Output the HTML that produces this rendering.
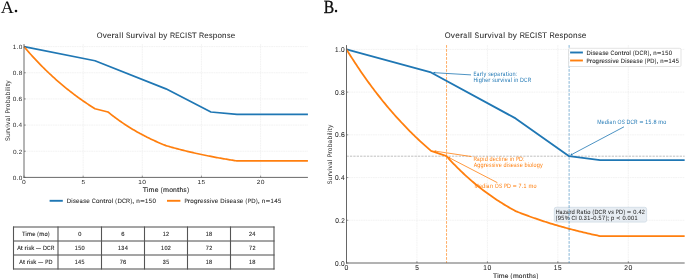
<!DOCTYPE html>
<html><head><meta charset="utf-8"><style>
html,body{margin:0;padding:0;background:#fff;}
svg{display:block;will-change:transform;}
text{font-family:"Liberation Sans",sans-serif;font-kerning:none;white-space:pre;text-rendering:geometricPrecision;}
</style></head><body>
<svg width="685" height="279" viewBox="0 0 685 279">
<rect width="685" height="279" fill="#fff"/>
<g>
<rect width="685" height="279" fill="#fff"/>
<line x1="83.15" y1="44.1" x2="83.15" y2="177.4" stroke="#eeeeee" stroke-width="0.7" stroke-dasharray="1.8 0.6"/>
<line x1="142.30" y1="44.1" x2="142.30" y2="177.4" stroke="#eeeeee" stroke-width="0.7" stroke-dasharray="1.8 0.6"/>
<line x1="201.45" y1="44.1" x2="201.45" y2="177.4" stroke="#eeeeee" stroke-width="0.7" stroke-dasharray="1.8 0.6"/>
<line x1="260.60" y1="44.1" x2="260.60" y2="177.4" stroke="#eeeeee" stroke-width="0.7" stroke-dasharray="1.8 0.6"/>
<line x1="24.0" y1="151.24" x2="307.92" y2="151.24" stroke="#eeeeee" stroke-width="0.7" stroke-dasharray="1.8 0.6"/>
<line x1="24.0" y1="125.08" x2="307.92" y2="125.08" stroke="#eeeeee" stroke-width="0.7" stroke-dasharray="1.8 0.6"/>
<line x1="24.0" y1="98.92" x2="307.92" y2="98.92" stroke="#eeeeee" stroke-width="0.7" stroke-dasharray="1.8 0.6"/>
<line x1="24.0" y1="72.76" x2="307.92" y2="72.76" stroke="#eeeeee" stroke-width="0.7" stroke-dasharray="1.8 0.6"/>
<line x1="24.0" y1="46.60" x2="307.92" y2="46.60" stroke="#eeeeee" stroke-width="0.7" stroke-dasharray="1.8 0.6"/>
<polyline points="24.00,46.60 94.98,60.73 165.96,88.85 210.91,112.00 236.94,114.35 307.92,114.35" fill="none" stroke="#1f77b4" stroke-width="1.7" stroke-linejoin="round" stroke-linecap="butt"/>
<polyline points="24.00,46.60 25.18,48.00 26.37,49.38 27.55,50.75 28.73,52.10 29.91,53.44 31.10,54.76 32.28,56.07 33.46,57.37 34.65,58.65 35.83,59.92 37.01,61.17 38.20,62.42 39.38,63.64 40.56,64.86 41.75,66.06 42.93,67.25 44.11,68.43 45.29,69.59 46.48,70.74 47.66,71.88 48.84,73.01 50.03,74.12 51.21,75.23 52.39,76.32 53.58,77.40 54.76,78.47 55.94,79.52 57.12,80.57 58.31,81.60 59.49,82.63 60.67,83.64 61.86,84.64 63.04,85.63 64.22,86.61 65.41,87.58 66.59,88.54 67.77,89.49 68.95,90.43 70.14,91.36 71.32,92.28 72.50,93.19 73.69,94.09 74.87,94.98 76.05,95.86 77.23,96.73 78.42,97.59 79.60,98.44 80.78,99.28 81.97,100.12 83.15,100.94 84.33,101.76 85.52,102.57 86.70,103.37 87.88,104.16 89.06,104.94 90.25,105.72 91.43,106.48 92.61,107.24 93.80,107.99 94.98,108.73 107.99,112.00 109.18,112.96 110.36,113.90 111.54,114.83 112.72,115.74 113.91,116.64 115.09,117.53 116.27,118.41 117.46,119.27 118.64,120.12 119.82,120.95 121.01,121.78 122.19,122.59 123.37,123.39 124.56,124.18 125.74,124.96 126.92,125.73 128.10,126.48 129.29,127.23 130.47,127.96 131.65,128.68 132.84,129.40 134.02,130.10 135.20,130.79 136.38,131.47 137.57,132.14 138.75,132.80 139.93,133.46 141.12,134.10 142.30,134.73 143.48,135.35 144.67,135.97 145.85,136.57 147.03,137.17 148.22,137.76 149.40,138.34 150.58,138.91 151.76,139.47 152.95,140.03 154.13,140.57 155.31,141.11 156.50,141.64 157.68,142.16 158.86,142.68 160.04,143.19 161.23,143.69 162.41,144.18 163.59,144.67 164.78,145.14 165.96,145.62 167.14,145.96 168.33,146.30 169.51,146.64 170.69,146.98 171.88,147.31 173.06,147.64 174.24,147.96 175.42,148.28 176.61,148.60 177.79,148.91 178.97,149.22 180.16,149.53 181.34,149.83 182.52,150.13 183.71,150.43 184.89,150.72 186.07,151.01 187.25,151.30 188.44,151.58 189.62,151.87 190.80,152.14 191.99,152.42 193.17,152.69 194.35,152.96 195.53,153.23 196.72,153.49 197.90,153.75 199.08,154.01 200.27,154.26 201.45,154.51 202.63,154.76 203.82,155.01 205.00,155.25 206.18,155.49 207.37,155.73 208.55,155.97 209.73,156.20 210.91,156.43 212.10,156.66 213.28,156.89 214.46,157.11 215.65,157.33 216.83,157.55 218.01,157.76 219.19,157.98 220.38,158.19 221.56,158.40 222.74,158.61 223.93,158.81 225.11,159.01 226.29,159.21 227.48,159.41 228.66,159.61 229.84,159.80 231.03,159.99 232.21,160.18 233.39,160.37 234.57,160.55 235.76,160.74 236.94,160.92 307.92,160.92" fill="none" stroke="#ff7f0e" stroke-width="1.7" stroke-linejoin="round" stroke-linecap="butt"/>
<line x1="24.0" y1="44.1" x2="24.0" y2="177.9" stroke="#6a6a6a" stroke-width="1"/>
<line x1="23.5" y1="177.4" x2="307.92" y2="177.4" stroke="#6a6a6a" stroke-width="1"/>
<line x1="24.00" y1="177.4" x2="24.00" y2="175.6" stroke="#555" stroke-width="0.6"/>
<line x1="83.15" y1="177.4" x2="83.15" y2="175.6" stroke="#555" stroke-width="0.6"/>
<line x1="142.30" y1="177.4" x2="142.30" y2="175.6" stroke="#555" stroke-width="0.6"/>
<line x1="201.45" y1="177.4" x2="201.45" y2="175.6" stroke="#555" stroke-width="0.6"/>
<line x1="260.60" y1="177.4" x2="260.60" y2="175.6" stroke="#555" stroke-width="0.6"/>
<line x1="24.0" y1="177.40" x2="25.8" y2="177.40" stroke="#555" stroke-width="0.6"/>
<line x1="24.0" y1="151.24" x2="25.8" y2="151.24" stroke="#555" stroke-width="0.6"/>
<line x1="24.0" y1="125.08" x2="25.8" y2="125.08" stroke="#555" stroke-width="0.6"/>
<line x1="24.0" y1="98.92" x2="25.8" y2="98.92" stroke="#555" stroke-width="0.6"/>
<line x1="24.0" y1="72.76" x2="25.8" y2="72.76" stroke="#555" stroke-width="0.6"/>
<line x1="24.0" y1="46.60" x2="25.8" y2="46.60" stroke="#555" stroke-width="0.6"/>
<text transform="translate(12.78,179.81) scale(1.055,1)" font-size="6.15" fill="#262626">0</text>
<text transform="translate(16.59,179.81) scale(1.083,1)" font-size="6.15" fill="#262626">.</text>
<text transform="translate(18.65,179.81) scale(1.055,1)" font-size="6.15" fill="#262626">0</text>
<text transform="translate(12.99,153.65) scale(1.055,1)" font-size="6.15" fill="#262626">0</text>
<text transform="translate(16.80,153.65) scale(1.083,1)" font-size="6.15" fill="#262626">.</text>
<text transform="translate(18.84,153.65) scale(1.017,1)" font-size="6.15" fill="#262626">2</text>
<text transform="translate(12.72,127.49) scale(1.055,1)" font-size="6.15" fill="#262626">0</text>
<text transform="translate(16.53,127.49) scale(1.083,1)" font-size="6.15" fill="#262626">.</text>
<text transform="translate(18.58,127.49) scale(1.055,1)" font-size="6.15" fill="#262626">4</text>
<text transform="translate(12.76,101.33) scale(1.055,1)" font-size="6.15" fill="#262626">0</text>
<text transform="translate(16.57,101.33) scale(1.083,1)" font-size="6.15" fill="#262626">.</text>
<text transform="translate(18.56,101.33) scale(1.092,1)" font-size="6.15" fill="#262626">6</text>
<text transform="translate(12.79,75.17) scale(1.055,1)" font-size="6.15" fill="#262626">0</text>
<text transform="translate(16.60,75.17) scale(1.083,1)" font-size="6.15" fill="#262626">.</text>
<text transform="translate(18.64,75.17) scale(1.066,1)" font-size="6.15" fill="#262626">8</text>
<text transform="translate(12.83,49.01) scale(1.008,1)" font-size="6.15" fill="#262626">1</text>
<text transform="translate(16.59,49.01) scale(1.083,1)" font-size="6.15" fill="#262626">.</text>
<text transform="translate(18.65,49.01) scale(1.055,1)" font-size="6.15" fill="#262626">0</text>
<text transform="translate(22.12,184.20) scale(1.137,1)" font-size="5.93" fill="#262626">0</text>
<text transform="translate(81.39,184.20) scale(1.073,1)" font-size="5.93" fill="#262626">5</text>
<text transform="translate(138.30,184.20) scale(1.086,1)" font-size="5.93" fill="#262626">1</text>
<text transform="translate(142.32,184.20) scale(1.137,1)" font-size="5.93" fill="#262626">0</text>
<text transform="translate(197.52,184.20) scale(1.086,1)" font-size="5.93" fill="#262626">1</text>
<text transform="translate(201.62,184.20) scale(1.073,1)" font-size="5.93" fill="#262626">5</text>
<text transform="translate(256.65,184.20) scale(1.096,1)" font-size="5.93" fill="#262626">2</text>
<text transform="translate(260.74,184.20) scale(1.137,1)" font-size="5.93" fill="#262626">0</text>
<text transform="translate(96.65,37.70) scale(0.933,1)" font-size="7.93" fill="#262626" stroke="#262626" stroke-width="0.04">O</text>
<text transform="translate(102.67,37.70) scale(1.019,1)" font-size="7.93" fill="#262626" stroke="#262626" stroke-width="0.04">v</text>
<text transform="translate(106.97,37.70) scale(1.019,1)" font-size="7.93" fill="#262626" stroke="#262626" stroke-width="0.04">e</text>
<text transform="translate(111.55,37.70) scale(1.209,1)" font-size="7.93" fill="#262626" stroke="#262626" stroke-width="0.04">r</text>
<text transform="translate(114.75,37.70) scale(0.849,1)" font-size="7.93" fill="#262626" stroke="#262626" stroke-width="0.04">a</text>
<text transform="translate(119.36,37.70) scale(0.965,1)" font-size="7.93" fill="#262626" stroke="#262626" stroke-width="0.04">l</text>
<text transform="translate(121.44,37.70) scale(0.965,1)" font-size="7.93" fill="#262626" stroke="#262626" stroke-width="0.04">l</text>
<text transform="translate(125.90,37.70) scale(0.841,1)" font-size="7.93" fill="#262626" stroke="#262626" stroke-width="0.04">S</text>
<text transform="translate(130.58,37.70) scale(1.018,1)" font-size="7.93" fill="#262626" stroke="#262626" stroke-width="0.04">u</text>
<text transform="translate(135.25,37.70) scale(1.209,1)" font-size="7.93" fill="#262626" stroke="#262626" stroke-width="0.04">r</text>
<text transform="translate(138.48,37.70) scale(1.019,1)" font-size="7.93" fill="#262626" stroke="#262626" stroke-width="0.04">v</text>
<text transform="translate(142.91,37.70) scale(0.965,1)" font-size="7.93" fill="#262626" stroke="#262626" stroke-width="0.04">i</text>
<text transform="translate(144.99,37.70) scale(1.019,1)" font-size="7.93" fill="#262626" stroke="#262626" stroke-width="0.04">v</text>
<text transform="translate(149.39,37.70) scale(0.849,1)" font-size="7.93" fill="#262626" stroke="#262626" stroke-width="0.04">a</text>
<text transform="translate(154.01,37.70) scale(0.965,1)" font-size="7.93" fill="#262626" stroke="#262626" stroke-width="0.04">l</text>
<text transform="translate(158.43,37.70) scale(1.027,1)" font-size="7.93" fill="#262626" stroke="#262626" stroke-width="0.04">b</text>
<text transform="translate(163.23,37.70) scale(1.013,1)" font-size="7.93" fill="#262626" stroke="#262626" stroke-width="0.04">y</text>
<text transform="translate(169.98,37.70) scale(0.903,1)" font-size="7.93" fill="#262626" stroke="#262626" stroke-width="0.04">R</text>
<text transform="translate(175.24,37.70) scale(0.818,1)" font-size="7.93" fill="#262626" stroke="#262626" stroke-width="0.04">E</text>
<text transform="translate(179.84,37.70) scale(0.876,1)" font-size="7.93" fill="#262626" stroke="#262626" stroke-width="0.04">C</text>
<text transform="translate(185.00,37.70) scale(0.998,1)" font-size="7.93" fill="#262626" stroke="#262626" stroke-width="0.04">I</text>
<text transform="translate(187.39,37.70) scale(0.841,1)" font-size="7.93" fill="#262626" stroke="#262626" stroke-width="0.04">S</text>
<text transform="translate(191.75,37.70) scale(1.029,1)" font-size="7.93" fill="#262626" stroke="#262626" stroke-width="0.04">T</text>
<text transform="translate(199.06,37.70) scale(0.903,1)" font-size="7.93" fill="#262626" stroke="#262626" stroke-width="0.04">R</text>
<text transform="translate(204.18,37.70) scale(1.019,1)" font-size="7.93" fill="#262626" stroke="#262626" stroke-width="0.04">e</text>
<text transform="translate(208.92,37.70) scale(0.905,1)" font-size="7.93" fill="#262626" stroke="#262626" stroke-width="0.04">s</text>
<text transform="translate(212.77,37.70) scale(1.027,1)" font-size="7.93" fill="#262626" stroke="#262626" stroke-width="0.04">p</text>
<text transform="translate(217.45,37.70) scale(1.003,1)" font-size="7.93" fill="#262626" stroke="#262626" stroke-width="0.04">o</text>
<text transform="translate(222.09,37.70) scale(1.018,1)" font-size="7.93" fill="#262626" stroke="#262626" stroke-width="0.04">n</text>
<text transform="translate(226.90,37.70) scale(0.905,1)" font-size="7.93" fill="#262626" stroke="#262626" stroke-width="0.04">s</text>
<text transform="translate(230.66,37.70) scale(1.019,1)" font-size="7.93" fill="#262626" stroke="#262626" stroke-width="0.04">e</text>
<text transform="translate(142.65,192.20) scale(1.029,1)" font-size="6.68" fill="#262626" stroke="#262626" stroke-width="0.12">T</text>
<text transform="translate(146.84,192.20) scale(0.965,1)" font-size="6.68" fill="#262626" stroke="#262626" stroke-width="0.12">i</text>
<text transform="translate(148.52,192.20) scale(1.075,1)" font-size="6.68" fill="#262626" stroke="#262626" stroke-width="0.12">m</text>
<text transform="translate(154.63,192.20) scale(1.019,1)" font-size="6.68" fill="#262626" stroke="#262626" stroke-width="0.12">e</text>
<text transform="translate(160.67,192.20) scale(0.798,1)" font-size="6.68" fill="#262626" stroke="#262626" stroke-width="0.12">(</text>
<text transform="translate(163.01,192.20) scale(1.075,1)" font-size="6.68" fill="#262626" stroke="#262626" stroke-width="0.12">m</text>
<text transform="translate(169.13,192.20) scale(1.003,1)" font-size="6.68" fill="#262626" stroke="#262626" stroke-width="0.12">o</text>
<text transform="translate(173.04,192.20) scale(1.018,1)" font-size="6.68" fill="#262626" stroke="#262626" stroke-width="0.12">n</text>
<text transform="translate(176.96,192.20) scale(1.261,1)" font-size="6.68" fill="#262626" stroke="#262626" stroke-width="0.12">t</text>
<text transform="translate(179.49,192.20) scale(1.025,1)" font-size="6.68" fill="#262626" stroke="#262626" stroke-width="0.12">h</text>
<text transform="translate(183.57,192.20) scale(0.905,1)" font-size="6.68" fill="#262626" stroke="#262626" stroke-width="0.12">s</text>
<text transform="translate(187.15,192.20) scale(0.798,1)" font-size="6.68" fill="#262626" stroke="#262626" stroke-width="0.12">)</text>
<text transform="translate(10.40,140.95) rotate(-90) scale(0.841,1)" font-size="6.67" fill="#262626">S</text>
<text transform="translate(10.40,137.03) rotate(-90) scale(1.018,1)" font-size="6.67" fill="#262626">u</text>
<text transform="translate(10.40,133.09) rotate(-90) scale(1.209,1)" font-size="6.67" fill="#262626">r</text>
<text transform="translate(10.40,130.38) rotate(-90) scale(1.019,1)" font-size="6.67" fill="#262626">v</text>
<text transform="translate(10.40,126.65) rotate(-90) scale(0.965,1)" font-size="6.67" fill="#262626">i</text>
<text transform="translate(10.40,124.90) rotate(-90) scale(1.019,1)" font-size="6.67" fill="#262626">v</text>
<text transform="translate(10.40,121.21) rotate(-90) scale(0.849,1)" font-size="6.67" fill="#262626">a</text>
<text transform="translate(10.40,117.33) rotate(-90) scale(0.965,1)" font-size="6.67" fill="#262626">l</text>
<text transform="translate(10.40,113.57) rotate(-90) scale(0.835,1)" font-size="6.67" fill="#262626">P</text>
<text transform="translate(10.40,109.90) rotate(-90) scale(1.209,1)" font-size="6.67" fill="#262626">r</text>
<text transform="translate(10.40,107.29) rotate(-90) scale(1.003,1)" font-size="6.67" fill="#262626">o</text>
<text transform="translate(10.40,103.37) rotate(-90) scale(1.027,1)" font-size="6.67" fill="#262626">b</text>
<text transform="translate(10.40,99.37) rotate(-90) scale(0.849,1)" font-size="6.67" fill="#262626">a</text>
<text transform="translate(10.40,95.52) rotate(-90) scale(1.027,1)" font-size="6.67" fill="#262626">b</text>
<text transform="translate(10.40,91.49) rotate(-90) scale(0.965,1)" font-size="6.67" fill="#262626">i</text>
<text transform="translate(10.40,89.74) rotate(-90) scale(0.965,1)" font-size="6.67" fill="#262626">l</text>
<text transform="translate(10.40,87.99) rotate(-90) scale(0.965,1)" font-size="6.67" fill="#262626">i</text>
<text transform="translate(10.40,86.36) rotate(-90) scale(1.261,1)" font-size="6.67" fill="#262626">t</text>
<text transform="translate(10.40,83.77) rotate(-90) scale(1.013,1)" font-size="6.67" fill="#262626">y</text>
<line x1="49.6" y1="200.8" x2="62.8" y2="200.8" stroke="#1f77b4" stroke-width="1.9"/>
<text transform="translate(66.70,202.90) scale(0.976,1)" font-size="6.25" fill="#262626" stroke="#262626" stroke-width="0.08">D</text>
<text transform="translate(71.32,202.90) scale(0.965,1)" font-size="6.25" fill="#262626" stroke="#262626" stroke-width="0.08">i</text>
<text transform="translate(72.97,202.90) scale(0.905,1)" font-size="6.25" fill="#262626" stroke="#262626" stroke-width="0.08">s</text>
<text transform="translate(75.93,202.90) scale(1.019,1)" font-size="6.25" fill="#262626" stroke="#262626" stroke-width="0.08">e</text>
<text transform="translate(79.64,202.90) scale(0.849,1)" font-size="6.25" fill="#262626" stroke="#262626" stroke-width="0.08">a</text>
<text transform="translate(83.28,202.90) scale(0.905,1)" font-size="6.25" fill="#262626" stroke="#262626" stroke-width="0.08">s</text>
<text transform="translate(86.25,202.90) scale(1.019,1)" font-size="6.25" fill="#262626" stroke="#262626" stroke-width="0.08">e</text>
<text transform="translate(91.75,202.90) scale(0.876,1)" font-size="6.25" fill="#262626" stroke="#262626" stroke-width="0.08">C</text>
<text transform="translate(95.88,202.90) scale(1.003,1)" font-size="6.25" fill="#262626" stroke="#262626" stroke-width="0.08">o</text>
<text transform="translate(99.54,202.90) scale(1.018,1)" font-size="6.25" fill="#262626" stroke="#262626" stroke-width="0.08">n</text>
<text transform="translate(103.21,202.90) scale(1.261,1)" font-size="6.25" fill="#262626" stroke="#262626" stroke-width="0.08">t</text>
<text transform="translate(105.52,202.90) scale(1.209,1)" font-size="6.25" fill="#262626" stroke="#262626" stroke-width="0.08">r</text>
<text transform="translate(107.97,202.90) scale(1.003,1)" font-size="6.25" fill="#262626" stroke="#262626" stroke-width="0.08">o</text>
<text transform="translate(111.67,202.90) scale(0.965,1)" font-size="6.25" fill="#262626" stroke="#262626" stroke-width="0.08">l</text>
<text transform="translate(115.23,202.90) scale(0.798,1)" font-size="6.25" fill="#262626" stroke="#262626" stroke-width="0.08">(</text>
<text transform="translate(117.41,202.90) scale(0.976,1)" font-size="6.25" fill="#262626" stroke="#262626" stroke-width="0.08">D</text>
<text transform="translate(121.93,202.90) scale(0.876,1)" font-size="6.25" fill="#262626" stroke="#262626" stroke-width="0.08">C</text>
<text transform="translate(126.11,202.90) scale(0.903,1)" font-size="6.25" fill="#262626" stroke="#262626" stroke-width="0.08">R</text>
<text transform="translate(130.54,202.90) scale(0.798,1)" font-size="6.25" fill="#262626" stroke="#262626" stroke-width="0.08">)</text>
<text transform="translate(132.08,202.90) scale(1.376,1)" font-size="6.25" fill="#262626" stroke="#262626" stroke-width="0.08">,</text>
<text transform="translate(136.26,202.90) scale(1.018,1)" font-size="6.25" fill="#262626" stroke="#262626" stroke-width="0.08">n</text>
<text transform="translate(140.14,202.90) scale(1.216,1)" font-size="6.25" fill="#262626" stroke="#262626" stroke-width="0.08">=</text>
<text transform="translate(145.03,202.90) scale(0.950,1)" font-size="6.25" fill="#262626" stroke="#262626" stroke-width="0.08">1</text>
<text transform="translate(148.80,202.90) scale(0.939,1)" font-size="6.25" fill="#262626" stroke="#262626" stroke-width="0.08">5</text>
<text transform="translate(152.48,202.90) scale(0.995,1)" font-size="6.25" fill="#262626" stroke="#262626" stroke-width="0.08">0</text>
<line x1="167" y1="200.8" x2="180.4" y2="200.8" stroke="#ff7f0e" stroke-width="1.9"/>
<text transform="translate(184.42,202.90) scale(0.835,1)" font-size="6.22" fill="#262626" stroke="#262626" stroke-width="0.08">P</text>
<text transform="translate(187.85,202.90) scale(1.209,1)" font-size="6.22" fill="#262626" stroke="#262626" stroke-width="0.08">r</text>
<text transform="translate(190.29,202.90) scale(1.003,1)" font-size="6.22" fill="#262626" stroke="#262626" stroke-width="0.08">o</text>
<text transform="translate(193.88,202.90) scale(1.026,1)" font-size="6.22" fill="#262626" stroke="#262626" stroke-width="0.08">g</text>
<text transform="translate(197.59,202.90) scale(1.209,1)" font-size="6.22" fill="#262626" stroke="#262626" stroke-width="0.08">r</text>
<text transform="translate(200.02,202.90) scale(1.019,1)" font-size="6.22" fill="#262626" stroke="#262626" stroke-width="0.08">e</text>
<text transform="translate(203.75,202.90) scale(0.905,1)" font-size="6.22" fill="#262626" stroke="#262626" stroke-width="0.08">s</text>
<text transform="translate(206.81,202.90) scale(0.905,1)" font-size="6.22" fill="#262626" stroke="#262626" stroke-width="0.08">s</text>
<text transform="translate(209.86,202.90) scale(0.965,1)" font-size="6.22" fill="#262626" stroke="#262626" stroke-width="0.08">i</text>
<text transform="translate(211.49,202.90) scale(1.019,1)" font-size="6.22" fill="#262626" stroke="#262626" stroke-width="0.08">v</text>
<text transform="translate(214.87,202.90) scale(1.019,1)" font-size="6.22" fill="#262626" stroke="#262626" stroke-width="0.08">e</text>
<text transform="translate(220.37,202.90) scale(0.976,1)" font-size="6.22" fill="#262626" stroke="#262626" stroke-width="0.08">D</text>
<text transform="translate(224.97,202.90) scale(0.965,1)" font-size="6.22" fill="#262626" stroke="#262626" stroke-width="0.08">i</text>
<text transform="translate(226.61,202.90) scale(0.905,1)" font-size="6.22" fill="#262626" stroke="#262626" stroke-width="0.08">s</text>
<text transform="translate(229.57,202.90) scale(1.019,1)" font-size="6.22" fill="#262626" stroke="#262626" stroke-width="0.08">e</text>
<text transform="translate(233.26,202.90) scale(0.849,1)" font-size="6.22" fill="#262626" stroke="#262626" stroke-width="0.08">a</text>
<text transform="translate(236.89,202.90) scale(0.905,1)" font-size="6.22" fill="#262626" stroke="#262626" stroke-width="0.08">s</text>
<text transform="translate(239.84,202.90) scale(1.019,1)" font-size="6.22" fill="#262626" stroke="#262626" stroke-width="0.08">e</text>
<text transform="translate(245.47,202.90) scale(0.798,1)" font-size="6.22" fill="#262626" stroke="#262626" stroke-width="0.08">(</text>
<text transform="translate(247.71,202.90) scale(0.835,1)" font-size="6.22" fill="#262626" stroke="#262626" stroke-width="0.08">P</text>
<text transform="translate(251.18,202.90) scale(0.976,1)" font-size="6.22" fill="#262626" stroke="#262626" stroke-width="0.08">D</text>
<text transform="translate(256.07,202.90) scale(0.798,1)" font-size="6.22" fill="#262626" stroke="#262626" stroke-width="0.08">)</text>
<text transform="translate(257.60,202.90) scale(1.376,1)" font-size="6.22" fill="#262626" stroke="#262626" stroke-width="0.08">,</text>
<text transform="translate(261.77,202.90) scale(1.018,1)" font-size="6.22" fill="#262626" stroke="#262626" stroke-width="0.08">n</text>
<text transform="translate(265.63,202.90) scale(1.216,1)" font-size="6.22" fill="#262626" stroke="#262626" stroke-width="0.08">=</text>
<text transform="translate(270.50,202.90) scale(0.950,1)" font-size="6.22" fill="#262626" stroke="#262626" stroke-width="0.08">1</text>
<text transform="translate(274.18,202.90) scale(0.995,1)" font-size="6.22" fill="#262626" stroke="#262626" stroke-width="0.08">4</text>
<text transform="translate(277.99,202.90) scale(0.939,1)" font-size="6.22" fill="#262626" stroke="#262626" stroke-width="0.08">5</text>
<line x1="13.0" y1="227.0" x2="274.5" y2="227.0" stroke="#4a4a4a" stroke-width="1"/>
<line x1="13.0" y1="241.0" x2="274.5" y2="241.0" stroke="#4a4a4a" stroke-width="1"/>
<line x1="13.0" y1="255.0" x2="274.5" y2="255.0" stroke="#4a4a4a" stroke-width="1"/>
<line x1="13.0" y1="269.0" x2="274.5" y2="269.0" stroke="#4a4a4a" stroke-width="1"/>
<line x1="13.5" y1="226.5" x2="13.5" y2="269.5" stroke="#555" stroke-width="1.1"/>
<line x1="58.0" y1="226.5" x2="58.0" y2="269.5" stroke="#555" stroke-width="1.1"/>
<line x1="101.5" y1="226.5" x2="101.5" y2="269.5" stroke="#555" stroke-width="1.1"/>
<line x1="144.5" y1="226.5" x2="144.5" y2="269.5" stroke="#555" stroke-width="1.1"/>
<line x1="187.5" y1="226.5" x2="187.5" y2="269.5" stroke="#555" stroke-width="1.1"/>
<line x1="230.5" y1="226.5" x2="230.5" y2="269.5" stroke="#555" stroke-width="1.1"/>
<line x1="274.0" y1="226.5" x2="274.0" y2="269.5" stroke="#555" stroke-width="1.1"/>
<text transform="translate(22.03,235.80) scale(0.949,1)" font-size="6.15" fill="#262626" stroke="#262626" stroke-width="0.12">T</text>
<text transform="translate(25.59,235.80) scale(0.890,1)" font-size="6.15" fill="#262626" stroke="#262626" stroke-width="0.12">i</text>
<text transform="translate(27.01,235.80) scale(0.992,1)" font-size="6.15" fill="#262626" stroke="#262626" stroke-width="0.12">m</text>
<text transform="translate(32.19,235.80) scale(0.940,1)" font-size="6.15" fill="#262626" stroke="#262626" stroke-width="0.12">e</text>
<text transform="translate(37.32,235.80) scale(0.736,1)" font-size="6.15" fill="#262626" stroke="#262626" stroke-width="0.12">(</text>
<text transform="translate(39.31,235.80) scale(0.992,1)" font-size="6.15" fill="#262626" stroke="#262626" stroke-width="0.12">m</text>
<text transform="translate(44.49,235.80) scale(0.925,1)" font-size="6.15" fill="#262626" stroke="#262626" stroke-width="0.12">o</text>
<text transform="translate(48.11,235.80) scale(0.736,1)" font-size="6.15" fill="#262626" stroke="#262626" stroke-width="0.12">)</text>
<text transform="translate(78.18,235.80) scale(0.918,1)" font-size="6.15" fill="#262626" stroke="#262626" stroke-width="0.12">0</text>
<text transform="translate(121.36,235.80) scale(0.950,1)" font-size="6.15" fill="#262626" stroke="#262626" stroke-width="0.12">6</text>
<text transform="translate(162.75,235.80) scale(0.876,1)" font-size="6.15" fill="#262626" stroke="#262626" stroke-width="0.12">1</text>
<text transform="translate(166.09,235.80) scale(0.885,1)" font-size="6.15" fill="#262626" stroke="#262626" stroke-width="0.12">2</text>
<text transform="translate(205.66,235.80) scale(0.876,1)" font-size="6.15" fill="#262626" stroke="#262626" stroke-width="0.12">1</text>
<text transform="translate(209.00,235.80) scale(0.928,1)" font-size="6.15" fill="#262626" stroke="#262626" stroke-width="0.12">8</text>
<text transform="translate(248.92,235.80) scale(0.885,1)" font-size="6.15" fill="#262626" stroke="#262626" stroke-width="0.12">2</text>
<text transform="translate(252.34,235.80) scale(0.918,1)" font-size="6.15" fill="#262626" stroke="#262626" stroke-width="0.12">4</text>
<text transform="translate(17.16,249.60) scale(0.877,1)" font-size="6.15" fill="#262626" stroke="#262626" stroke-width="0.12">A</text>
<text transform="translate(20.82,249.60) scale(1.163,1)" font-size="6.15" fill="#262626" stroke="#262626" stroke-width="0.12">t</text>
<text transform="translate(24.62,249.60) scale(1.115,1)" font-size="6.15" fill="#262626" stroke="#262626" stroke-width="0.12">r</text>
<text transform="translate(26.93,249.60) scale(0.890,1)" font-size="6.15" fill="#262626" stroke="#262626" stroke-width="0.12">i</text>
<text transform="translate(28.42,249.60) scale(0.834,1)" font-size="6.15" fill="#262626" stroke="#262626" stroke-width="0.12">s</text>
<text transform="translate(31.14,249.60) scale(0.973,1)" font-size="6.15" fill="#262626" stroke="#262626" stroke-width="0.12">k</text>
<text transform="translate(36.12,249.60) scale(0.786,1)" font-size="6.15" fill="#262626" stroke="#262626" stroke-width="0.12">—</text>
<text transform="translate(42.98,249.60) scale(0.901,1)" font-size="6.15" fill="#262626" stroke="#262626" stroke-width="0.12">D</text>
<text transform="translate(47.08,249.60) scale(0.808,1)" font-size="6.15" fill="#262626" stroke="#262626" stroke-width="0.12">C</text>
<text transform="translate(50.87,249.60) scale(0.833,1)" font-size="6.15" fill="#262626" stroke="#262626" stroke-width="0.12">R</text>
<text transform="translate(74.71,249.60) scale(0.876,1)" font-size="6.15" fill="#262626" stroke="#262626" stroke-width="0.12">1</text>
<text transform="translate(78.13,249.60) scale(0.866,1)" font-size="6.15" fill="#262626" stroke="#262626" stroke-width="0.12">5</text>
<text transform="translate(81.47,249.60) scale(0.918,1)" font-size="6.15" fill="#262626" stroke="#262626" stroke-width="0.12">0</text>
<text transform="translate(117.93,249.60) scale(0.876,1)" font-size="6.15" fill="#262626" stroke="#262626" stroke-width="0.12">1</text>
<text transform="translate(121.36,249.60) scale(0.881,1)" font-size="6.15" fill="#262626" stroke="#262626" stroke-width="0.12">3</text>
<text transform="translate(124.69,249.60) scale(0.918,1)" font-size="6.15" fill="#262626" stroke="#262626" stroke-width="0.12">4</text>
<text transform="translate(161.05,249.60) scale(0.876,1)" font-size="6.15" fill="#262626" stroke="#262626" stroke-width="0.12">1</text>
<text transform="translate(164.40,249.60) scale(0.918,1)" font-size="6.15" fill="#262626" stroke="#262626" stroke-width="0.12">0</text>
<text transform="translate(167.79,249.60) scale(0.885,1)" font-size="6.15" fill="#262626" stroke="#262626" stroke-width="0.12">2</text>
<text transform="translate(205.80,249.60) scale(0.898,1)" font-size="6.15" fill="#262626" stroke="#262626" stroke-width="0.12">7</text>
<text transform="translate(209.17,249.60) scale(0.885,1)" font-size="6.15" fill="#262626" stroke="#262626" stroke-width="0.12">2</text>
<text transform="translate(249.05,249.60) scale(0.898,1)" font-size="6.15" fill="#262626" stroke="#262626" stroke-width="0.12">7</text>
<text transform="translate(252.42,249.60) scale(0.885,1)" font-size="6.15" fill="#262626" stroke="#262626" stroke-width="0.12">2</text>
<text transform="translate(19.36,263.50) scale(0.877,1)" font-size="6.15" fill="#262626" stroke="#262626" stroke-width="0.12">A</text>
<text transform="translate(23.02,263.50) scale(1.163,1)" font-size="6.15" fill="#262626" stroke="#262626" stroke-width="0.12">t</text>
<text transform="translate(26.81,263.50) scale(1.115,1)" font-size="6.15" fill="#262626" stroke="#262626" stroke-width="0.12">r</text>
<text transform="translate(29.12,263.50) scale(0.890,1)" font-size="6.15" fill="#262626" stroke="#262626" stroke-width="0.12">i</text>
<text transform="translate(30.62,263.50) scale(0.834,1)" font-size="6.15" fill="#262626" stroke="#262626" stroke-width="0.12">s</text>
<text transform="translate(33.34,263.50) scale(0.973,1)" font-size="6.15" fill="#262626" stroke="#262626" stroke-width="0.12">k</text>
<text transform="translate(38.32,263.50) scale(0.786,1)" font-size="6.15" fill="#262626" stroke="#262626" stroke-width="0.12">—</text>
<text transform="translate(45.24,263.50) scale(0.770,1)" font-size="6.15" fill="#262626" stroke="#262626" stroke-width="0.12">P</text>
<text transform="translate(48.40,263.50) scale(0.901,1)" font-size="6.15" fill="#262626" stroke="#262626" stroke-width="0.12">D</text>
<text transform="translate(74.76,263.50) scale(0.876,1)" font-size="6.15" fill="#262626" stroke="#262626" stroke-width="0.12">1</text>
<text transform="translate(78.12,263.50) scale(0.918,1)" font-size="6.15" fill="#262626" stroke="#262626" stroke-width="0.12">4</text>
<text transform="translate(81.59,263.50) scale(0.866,1)" font-size="6.15" fill="#262626" stroke="#262626" stroke-width="0.12">5</text>
<text transform="translate(119.70,263.50) scale(0.898,1)" font-size="6.15" fill="#262626" stroke="#262626" stroke-width="0.12">7</text>
<text transform="translate(123.03,263.50) scale(0.950,1)" font-size="6.15" fill="#262626" stroke="#262626" stroke-width="0.12">6</text>
<text transform="translate(162.83,263.50) scale(0.881,1)" font-size="6.15" fill="#262626" stroke="#262626" stroke-width="0.12">3</text>
<text transform="translate(166.23,263.50) scale(0.866,1)" font-size="6.15" fill="#262626" stroke="#262626" stroke-width="0.12">5</text>
<text transform="translate(205.66,263.50) scale(0.876,1)" font-size="6.15" fill="#262626" stroke="#262626" stroke-width="0.12">1</text>
<text transform="translate(209.00,263.50) scale(0.928,1)" font-size="6.15" fill="#262626" stroke="#262626" stroke-width="0.12">8</text>
<text transform="translate(248.91,263.50) scale(0.876,1)" font-size="6.15" fill="#262626" stroke="#262626" stroke-width="0.12">1</text>
<text transform="translate(252.25,263.50) scale(0.928,1)" font-size="6.15" fill="#262626" stroke="#262626" stroke-width="0.12">8</text>
<line x1="416.95" y1="45.1" x2="416.95" y2="263.0" stroke="#eeeeee" stroke-width="0.7" stroke-dasharray="1.8 0.6"/>
<line x1="487.40" y1="45.1" x2="487.40" y2="263.0" stroke="#eeeeee" stroke-width="0.7" stroke-dasharray="1.8 0.6"/>
<line x1="557.85" y1="45.1" x2="557.85" y2="263.0" stroke="#eeeeee" stroke-width="0.7" stroke-dasharray="1.8 0.6"/>
<line x1="628.30" y1="45.1" x2="628.30" y2="263.0" stroke="#eeeeee" stroke-width="0.7" stroke-dasharray="1.8 0.6"/>
<line x1="346.5" y1="220.28" x2="684.66" y2="220.28" stroke="#eeeeee" stroke-width="0.7" stroke-dasharray="1.8 0.6"/>
<line x1="346.5" y1="177.56" x2="684.66" y2="177.56" stroke="#eeeeee" stroke-width="0.7" stroke-dasharray="1.8 0.6"/>
<line x1="346.5" y1="134.84" x2="684.66" y2="134.84" stroke="#eeeeee" stroke-width="0.7" stroke-dasharray="1.8 0.6"/>
<line x1="346.5" y1="92.12" x2="684.66" y2="92.12" stroke="#eeeeee" stroke-width="0.7" stroke-dasharray="1.8 0.6"/>
<line x1="346.5" y1="49.40" x2="684.66" y2="49.40" stroke="#eeeeee" stroke-width="0.7" stroke-dasharray="1.8 0.6"/>
<line x1="346.5" y1="156.20" x2="684.66" y2="156.20" stroke="#999" stroke-opacity="0.7" stroke-width="0.9" stroke-dasharray="2.3 1.1"/>
<line x1="446.54" y1="45.1" x2="446.54" y2="263.0" stroke="#ff7f0e" stroke-opacity="0.65" stroke-width="1" stroke-dasharray="2.7 1.3"/>
<polyline points="346.50,49.40 431.04,72.47 515.58,118.39 569.12,156.20 600.12,160.04 684.66,160.04" fill="none" stroke="#1f77b4" stroke-width="1.8" stroke-linejoin="round" stroke-linecap="butt"/>
<polyline points="346.50,49.40 347.91,51.68 349.32,53.94 350.73,56.17 352.14,58.38 353.55,60.57 354.95,62.73 356.36,64.87 357.77,66.99 359.18,69.08 360.59,71.15 362.00,73.20 363.41,75.23 364.82,77.23 366.23,79.22 367.63,81.18 369.04,83.12 370.45,85.04 371.86,86.94 373.27,88.83 374.68,90.69 376.09,92.53 377.50,94.35 378.91,96.15 380.32,97.93 381.73,99.69 383.13,101.44 384.54,103.16 385.95,104.87 387.36,106.56 388.77,108.23 390.18,109.89 391.59,111.52 393.00,113.14 394.41,114.74 395.81,116.32 397.22,117.89 398.63,119.44 400.04,120.97 401.45,122.49 402.86,123.99 404.27,125.48 405.68,126.95 407.09,128.40 408.50,129.84 409.90,131.26 411.31,132.67 412.72,134.06 414.13,135.44 415.54,136.80 416.95,138.15 418.36,139.48 419.77,140.80 421.18,142.10 422.59,143.40 424.00,144.67 425.40,145.94 426.81,147.19 428.22,148.43 429.63,149.65 431.04,150.86 446.54,156.20 447.95,157.76 449.36,159.30 450.77,160.82 452.18,162.31 453.58,163.78 454.99,165.23 456.40,166.66 457.81,168.07 459.22,169.46 460.63,170.82 462.04,172.17 463.45,173.50 464.86,174.81 466.26,176.10 467.67,177.37 469.08,178.62 470.49,179.85 471.90,181.07 473.31,182.26 474.72,183.44 476.13,184.61 477.54,185.75 478.95,186.88 480.36,188.00 481.76,189.09 483.17,190.17 484.58,191.24 485.99,192.29 487.40,193.32 488.81,194.34 490.22,195.34 491.63,196.33 493.04,197.31 494.44,198.27 495.85,199.21 497.26,200.14 498.67,201.06 500.08,201.97 501.49,202.86 502.90,203.74 504.31,204.61 505.72,205.46 507.13,206.30 508.53,207.13 509.94,207.95 511.35,208.75 512.76,209.54 514.17,210.33 515.58,211.10 516.99,211.66 518.40,212.22 519.81,212.77 521.22,213.32 522.62,213.86 524.03,214.39 525.44,214.92 526.85,215.45 528.26,215.96 529.67,216.48 531.08,216.98 532.49,217.48 533.90,217.98 535.31,218.47 536.72,218.95 538.12,219.43 539.53,219.91 540.94,220.38 542.35,220.84 543.76,221.30 545.17,221.75 546.58,222.20 547.99,222.65 549.40,223.09 550.81,223.52 552.21,223.95 553.62,224.38 555.03,224.80 556.44,225.21 557.85,225.62 559.26,226.03 560.67,226.43 562.08,226.83 563.49,227.23 564.89,227.61 566.30,228.00 567.71,228.38 569.12,228.76 570.53,229.13 571.94,229.50 573.35,229.86 574.76,230.23 576.17,230.58 577.58,230.93 578.99,231.28 580.39,231.63 581.80,231.97 583.21,232.31 584.62,232.64 586.03,232.97 587.44,233.30 588.85,233.62 590.26,233.94 591.67,234.26 593.08,234.57 594.48,234.88 595.89,235.19 597.30,235.49 598.71,235.79 600.12,236.09 684.66,236.09" fill="none" stroke="#ff7f0e" stroke-width="1.8" stroke-linejoin="round" stroke-linecap="butt"/>
<line x1="346.5" y1="45.1" x2="346.5" y2="263.5" stroke="#666" stroke-width="1"/>
<line x1="346.0" y1="263.0" x2="684.66" y2="263.0" stroke="#666" stroke-width="1"/>
<line x1="346.50" y1="263.0" x2="346.50" y2="261.2" stroke="#555" stroke-width="0.6"/>
<line x1="416.95" y1="263.0" x2="416.95" y2="261.2" stroke="#555" stroke-width="0.6"/>
<line x1="487.40" y1="263.0" x2="487.40" y2="261.2" stroke="#555" stroke-width="0.6"/>
<line x1="557.85" y1="263.0" x2="557.85" y2="261.2" stroke="#555" stroke-width="0.6"/>
<line x1="628.30" y1="263.0" x2="628.30" y2="261.2" stroke="#555" stroke-width="0.6"/>
<line x1="346.5" y1="263.00" x2="348.3" y2="263.00" stroke="#555" stroke-width="0.6"/>
<line x1="346.5" y1="220.28" x2="348.3" y2="220.28" stroke="#555" stroke-width="0.6"/>
<line x1="346.5" y1="177.56" x2="348.3" y2="177.56" stroke="#555" stroke-width="0.6"/>
<line x1="346.5" y1="134.84" x2="348.3" y2="134.84" stroke="#555" stroke-width="0.6"/>
<line x1="346.5" y1="92.12" x2="348.3" y2="92.12" stroke="#555" stroke-width="0.6"/>
<line x1="346.5" y1="49.40" x2="348.3" y2="49.40" stroke="#555" stroke-width="0.6"/>
<text transform="translate(335.03,265.51) scale(0.942,1)" font-size="6.99" fill="#262626" stroke="#262626" stroke-width="0.06">0</text>
<text transform="translate(338.90,265.51) scale(0.967,1)" font-size="6.99" fill="#262626" stroke="#262626" stroke-width="0.06">.</text>
<text transform="translate(340.99,265.51) scale(0.942,1)" font-size="6.99" fill="#262626" stroke="#262626" stroke-width="0.06">0</text>
<text transform="translate(335.24,222.79) scale(0.942,1)" font-size="6.99" fill="#262626" stroke="#262626" stroke-width="0.06">0</text>
<text transform="translate(339.11,222.79) scale(0.967,1)" font-size="6.99" fill="#262626" stroke="#262626" stroke-width="0.06">.</text>
<text transform="translate(341.19,222.79) scale(0.908,1)" font-size="6.99" fill="#262626" stroke="#262626" stroke-width="0.06">2</text>
<text transform="translate(334.97,180.07) scale(0.942,1)" font-size="6.99" fill="#262626" stroke="#262626" stroke-width="0.06">0</text>
<text transform="translate(338.84,180.07) scale(0.967,1)" font-size="6.99" fill="#262626" stroke="#262626" stroke-width="0.06">.</text>
<text transform="translate(340.93,180.07) scale(0.942,1)" font-size="6.99" fill="#262626" stroke="#262626" stroke-width="0.06">4</text>
<text transform="translate(335.01,137.35) scale(0.942,1)" font-size="6.99" fill="#262626" stroke="#262626" stroke-width="0.06">0</text>
<text transform="translate(338.88,137.35) scale(0.967,1)" font-size="6.99" fill="#262626" stroke="#262626" stroke-width="0.06">.</text>
<text transform="translate(340.91,137.35) scale(0.975,1)" font-size="6.99" fill="#262626" stroke="#262626" stroke-width="0.06">6</text>
<text transform="translate(335.04,94.63) scale(0.942,1)" font-size="6.99" fill="#262626" stroke="#262626" stroke-width="0.06">0</text>
<text transform="translate(338.91,94.63) scale(0.967,1)" font-size="6.99" fill="#262626" stroke="#262626" stroke-width="0.06">.</text>
<text transform="translate(340.99,94.63) scale(0.952,1)" font-size="6.99" fill="#262626" stroke="#262626" stroke-width="0.06">8</text>
<text transform="translate(335.08,51.91) scale(0.900,1)" font-size="6.99" fill="#262626" stroke="#262626" stroke-width="0.06">1</text>
<text transform="translate(338.90,51.91) scale(0.967,1)" font-size="6.99" fill="#262626" stroke="#262626" stroke-width="0.06">.</text>
<text transform="translate(340.99,51.91) scale(0.942,1)" font-size="6.99" fill="#262626" stroke="#262626" stroke-width="0.06">0</text>
<text transform="translate(344.59,269.80) scale(0.965,1)" font-size="7.10" fill="#262626" stroke="#262626" stroke-width="0.06">0</text>
<text transform="translate(415.16,269.80) scale(0.911,1)" font-size="7.10" fill="#262626" stroke="#262626" stroke-width="0.06">5</text>
<text transform="translate(483.34,269.80) scale(0.922,1)" font-size="7.10" fill="#262626" stroke="#262626" stroke-width="0.06">1</text>
<text transform="translate(487.42,269.80) scale(0.965,1)" font-size="7.10" fill="#262626" stroke="#262626" stroke-width="0.06">0</text>
<text transform="translate(553.86,269.80) scale(0.922,1)" font-size="7.10" fill="#262626" stroke="#262626" stroke-width="0.06">1</text>
<text transform="translate(558.02,269.80) scale(0.911,1)" font-size="7.10" fill="#262626" stroke="#262626" stroke-width="0.06">5</text>
<text transform="translate(624.29,269.80) scale(0.930,1)" font-size="7.10" fill="#262626" stroke="#262626" stroke-width="0.06">2</text>
<text transform="translate(628.44,269.80) scale(0.965,1)" font-size="7.10" fill="#262626" stroke="#262626" stroke-width="0.06">0</text>
<text transform="translate(444.64,37.90) scale(0.933,1)" font-size="8.12" fill="#262626" stroke="#262626" stroke-width="0.04">O</text>
<text transform="translate(450.80,37.90) scale(1.019,1)" font-size="8.12" fill="#262626" stroke="#262626" stroke-width="0.04">v</text>
<text transform="translate(455.21,37.90) scale(1.019,1)" font-size="8.12" fill="#262626" stroke="#262626" stroke-width="0.04">e</text>
<text transform="translate(459.90,37.90) scale(1.209,1)" font-size="8.12" fill="#262626" stroke="#262626" stroke-width="0.04">r</text>
<text transform="translate(463.17,37.90) scale(0.849,1)" font-size="8.12" fill="#262626" stroke="#262626" stroke-width="0.04">a</text>
<text transform="translate(467.90,37.90) scale(0.965,1)" font-size="8.12" fill="#262626" stroke="#262626" stroke-width="0.04">l</text>
<text transform="translate(470.03,37.90) scale(0.965,1)" font-size="8.12" fill="#262626" stroke="#262626" stroke-width="0.04">l</text>
<text transform="translate(474.60,37.90) scale(0.841,1)" font-size="8.12" fill="#262626" stroke="#262626" stroke-width="0.04">S</text>
<text transform="translate(479.38,37.90) scale(1.018,1)" font-size="8.12" fill="#262626" stroke="#262626" stroke-width="0.04">u</text>
<text transform="translate(484.17,37.90) scale(1.209,1)" font-size="8.12" fill="#262626" stroke="#262626" stroke-width="0.04">r</text>
<text transform="translate(487.48,37.90) scale(1.019,1)" font-size="8.12" fill="#262626" stroke="#262626" stroke-width="0.04">v</text>
<text transform="translate(492.01,37.90) scale(0.965,1)" font-size="8.12" fill="#262626" stroke="#262626" stroke-width="0.04">i</text>
<text transform="translate(494.14,37.90) scale(1.019,1)" font-size="8.12" fill="#262626" stroke="#262626" stroke-width="0.04">v</text>
<text transform="translate(498.65,37.90) scale(0.849,1)" font-size="8.12" fill="#262626" stroke="#262626" stroke-width="0.04">a</text>
<text transform="translate(503.37,37.90) scale(0.965,1)" font-size="8.12" fill="#262626" stroke="#262626" stroke-width="0.04">l</text>
<text transform="translate(507.90,37.90) scale(1.027,1)" font-size="8.12" fill="#262626" stroke="#262626" stroke-width="0.04">b</text>
<text transform="translate(512.82,37.90) scale(1.013,1)" font-size="8.12" fill="#262626" stroke="#262626" stroke-width="0.04">y</text>
<text transform="translate(519.73,37.90) scale(0.903,1)" font-size="8.12" fill="#262626" stroke="#262626" stroke-width="0.04">R</text>
<text transform="translate(525.11,37.90) scale(0.818,1)" font-size="8.12" fill="#262626" stroke="#262626" stroke-width="0.04">E</text>
<text transform="translate(529.82,37.90) scale(0.876,1)" font-size="8.12" fill="#262626" stroke="#262626" stroke-width="0.04">C</text>
<text transform="translate(535.11,37.90) scale(0.998,1)" font-size="8.12" fill="#262626" stroke="#262626" stroke-width="0.04">I</text>
<text transform="translate(537.56,37.90) scale(0.841,1)" font-size="8.12" fill="#262626" stroke="#262626" stroke-width="0.04">S</text>
<text transform="translate(542.02,37.90) scale(1.029,1)" font-size="8.12" fill="#262626" stroke="#262626" stroke-width="0.04">T</text>
<text transform="translate(549.50,37.90) scale(0.903,1)" font-size="8.12" fill="#262626" stroke="#262626" stroke-width="0.04">R</text>
<text transform="translate(554.75,37.90) scale(1.019,1)" font-size="8.12" fill="#262626" stroke="#262626" stroke-width="0.04">e</text>
<text transform="translate(559.60,37.90) scale(0.905,1)" font-size="8.12" fill="#262626" stroke="#262626" stroke-width="0.04">s</text>
<text transform="translate(563.54,37.90) scale(1.027,1)" font-size="8.12" fill="#262626" stroke="#262626" stroke-width="0.04">p</text>
<text transform="translate(568.33,37.90) scale(1.003,1)" font-size="8.12" fill="#262626" stroke="#262626" stroke-width="0.04">o</text>
<text transform="translate(573.09,37.90) scale(1.018,1)" font-size="8.12" fill="#262626" stroke="#262626" stroke-width="0.04">n</text>
<text transform="translate(578.01,37.90) scale(0.905,1)" font-size="8.12" fill="#262626" stroke="#262626" stroke-width="0.04">s</text>
<text transform="translate(581.86,37.90) scale(1.019,1)" font-size="8.12" fill="#262626" stroke="#262626" stroke-width="0.04">e</text>
<text transform="translate(493.05,277.90) scale(1.029,1)" font-size="6.51" fill="#262626" stroke="#262626" stroke-width="0.12">T</text>
<text transform="translate(497.13,277.90) scale(0.965,1)" font-size="6.51" fill="#262626" stroke="#262626" stroke-width="0.12">i</text>
<text transform="translate(498.77,277.90) scale(1.075,1)" font-size="6.51" fill="#262626" stroke="#262626" stroke-width="0.12">m</text>
<text transform="translate(504.72,277.90) scale(1.019,1)" font-size="6.51" fill="#262626" stroke="#262626" stroke-width="0.12">e</text>
<text transform="translate(510.60,277.90) scale(0.798,1)" font-size="6.51" fill="#262626" stroke="#262626" stroke-width="0.12">(</text>
<text transform="translate(512.88,277.90) scale(1.075,1)" font-size="6.51" fill="#262626" stroke="#262626" stroke-width="0.12">m</text>
<text transform="translate(518.84,277.90) scale(1.003,1)" font-size="6.51" fill="#262626" stroke="#262626" stroke-width="0.12">o</text>
<text transform="translate(522.65,277.90) scale(1.018,1)" font-size="6.51" fill="#262626" stroke="#262626" stroke-width="0.12">n</text>
<text transform="translate(526.47,277.90) scale(1.261,1)" font-size="6.51" fill="#262626" stroke="#262626" stroke-width="0.12">t</text>
<text transform="translate(528.93,277.90) scale(1.025,1)" font-size="6.51" fill="#262626" stroke="#262626" stroke-width="0.12">h</text>
<text transform="translate(532.90,277.90) scale(0.905,1)" font-size="6.51" fill="#262626" stroke="#262626" stroke-width="0.12">s</text>
<text transform="translate(536.39,277.90) scale(0.798,1)" font-size="6.51" fill="#262626" stroke="#262626" stroke-width="0.12">)</text>
<text transform="translate(332.30,184.25) rotate(-90) scale(0.841,1)" font-size="6.56" fill="#262626">S</text>
<text transform="translate(332.30,180.39) rotate(-90) scale(1.018,1)" font-size="6.56" fill="#262626">u</text>
<text transform="translate(332.30,176.52) rotate(-90) scale(1.209,1)" font-size="6.56" fill="#262626">r</text>
<text transform="translate(332.30,173.85) rotate(-90) scale(1.019,1)" font-size="6.56" fill="#262626">v</text>
<text transform="translate(332.30,170.19) rotate(-90) scale(0.965,1)" font-size="6.56" fill="#262626">i</text>
<text transform="translate(332.30,168.47) rotate(-90) scale(1.019,1)" font-size="6.56" fill="#262626">v</text>
<text transform="translate(332.30,164.83) rotate(-90) scale(0.849,1)" font-size="6.56" fill="#262626">a</text>
<text transform="translate(332.30,161.01) rotate(-90) scale(0.965,1)" font-size="6.56" fill="#262626">l</text>
<text transform="translate(332.30,157.32) rotate(-90) scale(0.835,1)" font-size="6.56" fill="#262626">P</text>
<text transform="translate(332.30,153.71) rotate(-90) scale(1.209,1)" font-size="6.56" fill="#262626">r</text>
<text transform="translate(332.30,151.14) rotate(-90) scale(1.003,1)" font-size="6.56" fill="#262626">o</text>
<text transform="translate(332.30,147.29) rotate(-90) scale(1.027,1)" font-size="6.56" fill="#262626">b</text>
<text transform="translate(332.30,143.35) rotate(-90) scale(0.849,1)" font-size="6.56" fill="#262626">a</text>
<text transform="translate(332.30,139.57) rotate(-90) scale(1.027,1)" font-size="6.56" fill="#262626">b</text>
<text transform="translate(332.30,135.61) rotate(-90) scale(0.965,1)" font-size="6.56" fill="#262626">i</text>
<text transform="translate(332.30,133.89) rotate(-90) scale(0.965,1)" font-size="6.56" fill="#262626">l</text>
<text transform="translate(332.30,132.17) rotate(-90) scale(0.965,1)" font-size="6.56" fill="#262626">i</text>
<text transform="translate(332.30,130.57) rotate(-90) scale(1.261,1)" font-size="6.56" fill="#262626">t</text>
<text transform="translate(332.30,128.01) rotate(-90) scale(1.013,1)" font-size="6.56" fill="#262626">y</text>
<line x1="471.00" y1="74.90" x2="435.40" y2="72.76" stroke="#1f77b4" stroke-width="0.8"/><polygon points="432.80,72.60 435.46,71.66 435.33,73.85" fill="#1f77b4"/>
<text transform="translate(473.43,75.80) scale(0.719,1)" font-size="6.25" fill="#1f77b4">E</text>
<text transform="translate(476.68,75.80) scale(0.746,1)" font-size="6.25" fill="#1f77b4">a</text>
<text transform="translate(479.78,75.80) scale(1.063,1)" font-size="6.25" fill="#1f77b4">r</text>
<text transform="translate(482.01,75.80) scale(0.848,1)" font-size="6.25" fill="#1f77b4">l</text>
<text transform="translate(483.46,75.80) scale(0.891,1)" font-size="6.25" fill="#1f77b4">y</text>
<text transform="translate(488.18,75.80) scale(0.795,1)" font-size="6.25" fill="#1f77b4">s</text>
<text transform="translate(490.79,75.80) scale(0.896,1)" font-size="6.25" fill="#1f77b4">e</text>
<text transform="translate(494.04,75.80) scale(0.903,1)" font-size="6.25" fill="#1f77b4">p</text>
<text transform="translate(497.34,75.80) scale(0.746,1)" font-size="6.25" fill="#1f77b4">a</text>
<text transform="translate(500.44,75.80) scale(1.063,1)" font-size="6.25" fill="#1f77b4">r</text>
<text transform="translate(502.65,75.80) scale(0.746,1)" font-size="6.25" fill="#1f77b4">a</text>
<text transform="translate(505.75,75.80) scale(1.109,1)" font-size="6.25" fill="#1f77b4">t</text>
<text transform="translate(507.89,75.80) scale(0.848,1)" font-size="6.25" fill="#1f77b4">i</text>
<text transform="translate(509.25,75.80) scale(0.882,1)" font-size="6.25" fill="#1f77b4">o</text>
<text transform="translate(512.47,75.80) scale(0.895,1)" font-size="6.25" fill="#1f77b4">n</text>
<text transform="translate(515.75,75.80) scale(0.898,1)" font-size="6.25" fill="#1f77b4">:</text>
<text transform="translate(473.38,81.90) scale(0.817,1)" font-size="6.25" fill="#1f77b4">H</text>
<text transform="translate(477.29,81.90) scale(0.839,1)" font-size="6.25" fill="#1f77b4">i</text>
<text transform="translate(478.63,81.90) scale(0.892,1)" font-size="6.25" fill="#1f77b4">g</text>
<text transform="translate(481.92,81.90) scale(0.891,1)" font-size="6.25" fill="#1f77b4">h</text>
<text transform="translate(485.14,81.90) scale(0.887,1)" font-size="6.25" fill="#1f77b4">e</text>
<text transform="translate(488.28,81.90) scale(1.052,1)" font-size="6.25" fill="#1f77b4">r</text>
<text transform="translate(492.13,81.90) scale(0.787,1)" font-size="6.25" fill="#1f77b4">s</text>
<text transform="translate(494.74,81.90) scale(0.885,1)" font-size="6.25" fill="#1f77b4">u</text>
<text transform="translate(497.95,81.90) scale(1.052,1)" font-size="6.25" fill="#1f77b4">r</text>
<text transform="translate(500.16,81.90) scale(0.886,1)" font-size="6.25" fill="#1f77b4">v</text>
<text transform="translate(503.20,81.90) scale(0.839,1)" font-size="6.25" fill="#1f77b4">i</text>
<text transform="translate(504.63,81.90) scale(0.886,1)" font-size="6.25" fill="#1f77b4">v</text>
<text transform="translate(507.64,81.90) scale(0.738,1)" font-size="6.25" fill="#1f77b4">a</text>
<text transform="translate(510.81,81.90) scale(0.839,1)" font-size="6.25" fill="#1f77b4">l</text>
<text transform="translate(513.87,81.90) scale(0.839,1)" font-size="6.25" fill="#1f77b4">i</text>
<text transform="translate(515.26,81.90) scale(0.885,1)" font-size="6.25" fill="#1f77b4">n</text>
<text transform="translate(520.11,81.90) scale(0.849,1)" font-size="6.25" fill="#1f77b4">D</text>
<text transform="translate(524.04,81.90) scale(0.762,1)" font-size="6.25" fill="#1f77b4">C</text>
<text transform="translate(527.68,81.90) scale(0.785,1)" font-size="6.25" fill="#1f77b4">R</text>
<line x1="624.00" y1="126.80" x2="572.30" y2="154.18" stroke="#1f77b4" stroke-width="0.8"/><polygon points="570.00,155.40 571.78,153.21 572.81,155.16" fill="#1f77b4"/>
<text transform="translate(597.18,124.30) scale(0.821,1)" font-size="6.25" fill="#1f77b4">M</text>
<text transform="translate(601.58,124.30) scale(0.889,1)" font-size="6.25" fill="#1f77b4">e</text>
<text transform="translate(604.75,124.30) scale(0.895,1)" font-size="6.25" fill="#1f77b4">d</text>
<text transform="translate(608.10,124.30) scale(0.842,1)" font-size="6.25" fill="#1f77b4">i</text>
<text transform="translate(609.51,124.30) scale(0.740,1)" font-size="6.25" fill="#1f77b4">a</text>
<text transform="translate(612.65,124.30) scale(0.888,1)" font-size="6.25" fill="#1f77b4">n</text>
<text transform="translate(617.50,124.30) scale(0.814,1)" font-size="6.25" fill="#1f77b4">O</text>
<text transform="translate(621.63,124.30) scale(0.734,1)" font-size="6.25" fill="#1f77b4">S</text>
<text transform="translate(626.47,124.30) scale(0.852,1)" font-size="6.25" fill="#1f77b4">D</text>
<text transform="translate(630.41,124.30) scale(0.764,1)" font-size="6.25" fill="#1f77b4">C</text>
<text transform="translate(634.06,124.30) scale(0.787,1)" font-size="6.25" fill="#1f77b4">R</text>
<text transform="translate(639.40,124.30) scale(1.061,1)" font-size="6.25" fill="#1f77b4">=</text>
<text transform="translate(645.29,124.30) scale(0.829,1)" font-size="6.25" fill="#1f77b4">1</text>
<text transform="translate(648.59,124.30) scale(0.819,1)" font-size="6.25" fill="#1f77b4">5</text>
<text transform="translate(651.71,124.30) scale(0.891,1)" font-size="6.25" fill="#1f77b4">.</text>
<text transform="translate(653.42,124.30) scale(0.877,1)" font-size="6.25" fill="#1f77b4">8</text>
<text transform="translate(658.30,124.30) scale(0.938,1)" font-size="6.25" fill="#1f77b4">m</text>
<text transform="translate(663.29,124.30) scale(0.875,1)" font-size="6.25" fill="#1f77b4">o</text>
<line x1="471.60" y1="156.60" x2="436.07" y2="151.28" stroke="#ff7f0e" stroke-width="0.8"/><polygon points="433.50,150.90 436.23,150.20 435.91,152.37" fill="#ff7f0e"/>
<text transform="translate(473.40,161.20) scale(0.782,1)" font-size="6.25" fill="#ff7f0e">R</text>
<text transform="translate(476.96,161.20) scale(0.735,1)" font-size="6.25" fill="#ff7f0e">a</text>
<text transform="translate(480.09,161.20) scale(0.890,1)" font-size="6.25" fill="#ff7f0e">p</text>
<text transform="translate(483.36,161.20) scale(0.836,1)" font-size="6.25" fill="#ff7f0e">i</text>
<text transform="translate(484.70,161.20) scale(0.889,1)" font-size="6.25" fill="#ff7f0e">d</text>
<text transform="translate(489.57,161.20) scale(0.889,1)" font-size="6.25" fill="#ff7f0e">d</text>
<text transform="translate(492.81,161.20) scale(0.883,1)" font-size="6.25" fill="#ff7f0e">e</text>
<text transform="translate(495.97,161.20) scale(0.821,1)" font-size="6.25" fill="#ff7f0e">c</text>
<text transform="translate(498.85,161.20) scale(0.836,1)" font-size="6.25" fill="#ff7f0e">l</text>
<text transform="translate(500.27,161.20) scale(0.836,1)" font-size="6.25" fill="#ff7f0e">i</text>
<text transform="translate(501.66,161.20) scale(0.882,1)" font-size="6.25" fill="#ff7f0e">n</text>
<text transform="translate(504.85,161.20) scale(0.883,1)" font-size="6.25" fill="#ff7f0e">e</text>
<text transform="translate(509.70,161.20) scale(0.836,1)" font-size="6.25" fill="#ff7f0e">i</text>
<text transform="translate(511.09,161.20) scale(0.882,1)" font-size="6.25" fill="#ff7f0e">n</text>
<text transform="translate(515.99,161.20) scale(0.723,1)" font-size="6.25" fill="#ff7f0e">P</text>
<text transform="translate(519.01,161.20) scale(0.846,1)" font-size="6.25" fill="#ff7f0e">D</text>
<text transform="translate(522.97,161.20) scale(0.885,1)" font-size="6.25" fill="#ff7f0e">:</text>
<text transform="translate(473.79,167.10) scale(0.820,1)" font-size="6.25" fill="#ff7f0e">A</text>
<text transform="translate(477.29,167.10) scale(0.884,1)" font-size="6.25" fill="#ff7f0e">g</text>
<text transform="translate(480.52,167.10) scale(0.884,1)" font-size="6.25" fill="#ff7f0e">g</text>
<text transform="translate(483.73,167.10) scale(1.043,1)" font-size="6.25" fill="#ff7f0e">r</text>
<text transform="translate(485.84,167.10) scale(0.879,1)" font-size="6.25" fill="#ff7f0e">e</text>
<text transform="translate(489.06,167.10) scale(0.780,1)" font-size="6.25" fill="#ff7f0e">s</text>
<text transform="translate(491.71,167.10) scale(0.780,1)" font-size="6.25" fill="#ff7f0e">s</text>
<text transform="translate(494.35,167.10) scale(0.832,1)" font-size="6.25" fill="#ff7f0e">i</text>
<text transform="translate(495.77,167.10) scale(0.878,1)" font-size="6.25" fill="#ff7f0e">v</text>
<text transform="translate(498.69,167.10) scale(0.879,1)" font-size="6.25" fill="#ff7f0e">e</text>
<text transform="translate(503.44,167.10) scale(0.884,1)" font-size="6.25" fill="#ff7f0e">d</text>
<text transform="translate(506.75,167.10) scale(0.832,1)" font-size="6.25" fill="#ff7f0e">i</text>
<text transform="translate(508.18,167.10) scale(0.780,1)" font-size="6.25" fill="#ff7f0e">s</text>
<text transform="translate(510.73,167.10) scale(0.879,1)" font-size="6.25" fill="#ff7f0e">e</text>
<text transform="translate(513.93,167.10) scale(0.732,1)" font-size="6.25" fill="#ff7f0e">a</text>
<text transform="translate(517.07,167.10) scale(0.780,1)" font-size="6.25" fill="#ff7f0e">s</text>
<text transform="translate(519.63,167.10) scale(0.879,1)" font-size="6.25" fill="#ff7f0e">e</text>
<text transform="translate(524.44,167.10) scale(0.885,1)" font-size="6.25" fill="#ff7f0e">b</text>
<text transform="translate(527.69,167.10) scale(0.832,1)" font-size="6.25" fill="#ff7f0e">i</text>
<text transform="translate(529.03,167.10) scale(0.865,1)" font-size="6.25" fill="#ff7f0e">o</text>
<text transform="translate(532.21,167.10) scale(0.832,1)" font-size="6.25" fill="#ff7f0e">l</text>
<text transform="translate(533.55,167.10) scale(0.865,1)" font-size="6.25" fill="#ff7f0e">o</text>
<text transform="translate(536.66,167.10) scale(0.884,1)" font-size="6.25" fill="#ff7f0e">g</text>
<text transform="translate(539.98,167.10) scale(0.874,1)" font-size="6.25" fill="#ff7f0e">y</text>
<line x1="497.40" y1="182.70" x2="449.81" y2="158.00" stroke="#ff7f0e" stroke-width="0.8"/><polygon points="447.50,156.80 450.31,157.02 449.30,158.97" fill="#ff7f0e"/>
<text transform="translate(474.48,188.40) scale(0.823,1)" font-size="6.25" fill="#ff7f0e">M</text>
<text transform="translate(478.89,188.40) scale(0.891,1)" font-size="6.25" fill="#ff7f0e">e</text>
<text transform="translate(482.07,188.40) scale(0.897,1)" font-size="6.25" fill="#ff7f0e">d</text>
<text transform="translate(485.43,188.40) scale(0.844,1)" font-size="6.25" fill="#ff7f0e">i</text>
<text transform="translate(486.84,188.40) scale(0.742,1)" font-size="6.25" fill="#ff7f0e">a</text>
<text transform="translate(489.99,188.40) scale(0.890,1)" font-size="6.25" fill="#ff7f0e">n</text>
<text transform="translate(494.84,188.40) scale(0.816,1)" font-size="6.25" fill="#ff7f0e">O</text>
<text transform="translate(498.99,188.40) scale(0.736,1)" font-size="6.25" fill="#ff7f0e">S</text>
<text transform="translate(503.90,188.40) scale(0.730,1)" font-size="6.25" fill="#ff7f0e">P</text>
<text transform="translate(506.95,188.40) scale(0.854,1)" font-size="6.25" fill="#ff7f0e">D</text>
<text transform="translate(512.72,188.40) scale(1.063,1)" font-size="6.25" fill="#ff7f0e">=</text>
<text transform="translate(518.61,188.40) scale(0.851,1)" font-size="6.25" fill="#ff7f0e">7</text>
<text transform="translate(521.78,188.40) scale(0.893,1)" font-size="6.25" fill="#ff7f0e">.</text>
<text transform="translate(523.55,188.40) scale(0.831,1)" font-size="6.25" fill="#ff7f0e">1</text>
<text transform="translate(528.38,188.40) scale(0.940,1)" font-size="6.25" fill="#ff7f0e">m</text>
<text transform="translate(533.38,188.40) scale(0.877,1)" font-size="6.25" fill="#ff7f0e">o</text>
<rect x="554.3" y="207.3" width="92.3" height="14.8" rx="1.8" fill="#e4ebf2" fill-opacity="0.9" stroke="#ccd8e3" stroke-width="0.7"/>
<text transform="translate(555.66,214.00) scale(0.877,1)" font-size="6.15" fill="#262626" stroke="#262626" stroke-width="0.04">H</text>
<text transform="translate(559.76,214.00) scale(0.792,1)" font-size="6.15" fill="#262626" stroke="#262626" stroke-width="0.04">a</text>
<text transform="translate(562.96,214.00) scale(0.944,1)" font-size="6.15" fill="#262626" stroke="#262626" stroke-width="0.04">z</text>
<text transform="translate(565.92,214.00) scale(0.792,1)" font-size="6.15" fill="#262626" stroke="#262626" stroke-width="0.04">a</text>
<text transform="translate(569.15,214.00) scale(1.129,1)" font-size="6.15" fill="#262626" stroke="#262626" stroke-width="0.04">r</text>
<text transform="translate(571.40,214.00) scale(0.958,1)" font-size="6.15" fill="#262626" stroke="#262626" stroke-width="0.04">d</text>
<text transform="translate(576.61,214.00) scale(0.843,1)" font-size="6.15" fill="#262626" stroke="#262626" stroke-width="0.04">R</text>
<text transform="translate(580.39,214.00) scale(0.792,1)" font-size="6.15" fill="#262626" stroke="#262626" stroke-width="0.04">a</text>
<text transform="translate(583.63,214.00) scale(1.178,1)" font-size="6.15" fill="#262626" stroke="#262626" stroke-width="0.04">t</text>
<text transform="translate(585.85,214.00) scale(0.901,1)" font-size="6.15" fill="#262626" stroke="#262626" stroke-width="0.04">i</text>
<text transform="translate(587.28,214.00) scale(0.937,1)" font-size="6.15" fill="#262626" stroke="#262626" stroke-width="0.04">o</text>
<text transform="translate(592.44,214.00) scale(0.745,1)" font-size="6.15" fill="#262626" stroke="#262626" stroke-width="0.04">(</text>
<text transform="translate(594.44,214.00) scale(0.912,1)" font-size="6.15" fill="#262626" stroke="#262626" stroke-width="0.04">D</text>
<text transform="translate(598.59,214.00) scale(0.818,1)" font-size="6.15" fill="#262626" stroke="#262626" stroke-width="0.04">C</text>
<text transform="translate(602.43,214.00) scale(0.843,1)" font-size="6.15" fill="#262626" stroke="#262626" stroke-width="0.04">R</text>
<text transform="translate(607.95,214.00) scale(0.951,1)" font-size="6.15" fill="#262626" stroke="#262626" stroke-width="0.04">v</text>
<text transform="translate(611.16,214.00) scale(0.845,1)" font-size="6.15" fill="#262626" stroke="#262626" stroke-width="0.04">s</text>
<text transform="translate(615.69,214.00) scale(0.779,1)" font-size="6.15" fill="#262626" stroke="#262626" stroke-width="0.04">P</text>
<text transform="translate(618.89,214.00) scale(0.912,1)" font-size="6.15" fill="#262626" stroke="#262626" stroke-width="0.04">D</text>
<text transform="translate(623.40,214.00) scale(0.745,1)" font-size="6.15" fill="#262626" stroke="#262626" stroke-width="0.04">)</text>
<text transform="translate(627.06,214.00) scale(1.135,1)" font-size="6.15" fill="#262626" stroke="#262626" stroke-width="0.04">=</text>
<text transform="translate(633.22,214.00) scale(0.929,1)" font-size="6.15" fill="#262626" stroke="#262626" stroke-width="0.04">0</text>
<text transform="translate(636.57,214.00) scale(0.954,1)" font-size="6.15" fill="#262626" stroke="#262626" stroke-width="0.04">.</text>
<text transform="translate(638.38,214.00) scale(0.929,1)" font-size="6.15" fill="#262626" stroke="#262626" stroke-width="0.04">4</text>
<text transform="translate(641.82,214.00) scale(0.895,1)" font-size="6.15" fill="#262626" stroke="#262626" stroke-width="0.04">2</text>
<text transform="translate(555.82,219.60) scale(0.742,1)" font-size="6.15" fill="#262626" stroke="#262626" stroke-width="0.04">(</text>
<text transform="translate(557.81,219.60) scale(0.956,1)" font-size="6.15" fill="#262626" stroke="#262626" stroke-width="0.04">9</text>
<text transform="translate(561.37,219.60) scale(0.873,1)" font-size="6.15" fill="#262626" stroke="#262626" stroke-width="0.04">5</text>
<text transform="translate(564.71,219.60) scale(0.901,1)" font-size="6.15" fill="#262626" stroke="#262626" stroke-width="0.04">%</text>
<text transform="translate(571.50,219.60) scale(0.815,1)" font-size="6.15" fill="#262626" stroke="#262626" stroke-width="0.04">C</text>
<text transform="translate(575.22,219.60) scale(0.928,1)" font-size="6.15" fill="#262626" stroke="#262626" stroke-width="0.04">I</text>
<text transform="translate(578.65,219.60) scale(0.925,1)" font-size="6.15" fill="#262626" stroke="#262626" stroke-width="0.04">0</text>
<text transform="translate(582.00,219.60) scale(0.950,1)" font-size="6.15" fill="#262626" stroke="#262626" stroke-width="0.04">.</text>
<text transform="translate(583.87,219.60) scale(0.889,1)" font-size="6.15" fill="#262626" stroke="#262626" stroke-width="0.04">3</text>
<text transform="translate(587.28,219.60) scale(0.884,1)" font-size="6.15" fill="#262626" stroke="#262626" stroke-width="0.04">1</text>
<text transform="translate(590.80,219.60) scale(0.636,1)" font-size="6.15" fill="#262626" stroke="#262626" stroke-width="0.04">–</text>
<text transform="translate(593.36,219.60) scale(0.925,1)" font-size="6.15" fill="#262626" stroke="#262626" stroke-width="0.04">0</text>
<text transform="translate(596.71,219.60) scale(0.950,1)" font-size="6.15" fill="#262626" stroke="#262626" stroke-width="0.04">.</text>
<text transform="translate(598.58,219.60) scale(0.873,1)" font-size="6.15" fill="#262626" stroke="#262626" stroke-width="0.04">5</text>
<text transform="translate(601.97,219.60) scale(0.905,1)" font-size="6.15" fill="#262626" stroke="#262626" stroke-width="0.04">7</text>
<text transform="translate(605.65,219.60) scale(0.742,1)" font-size="6.15" fill="#262626" stroke="#262626" stroke-width="0.04">)</text>
<text transform="translate(607.06,219.60) scale(1.280,1)" font-size="6.15" fill="#262626" stroke="#262626" stroke-width="0.04">;</text>
<text transform="translate(610.99,219.60) scale(0.955,1)" font-size="6.15" fill="#262626" stroke="#262626" stroke-width="0.04">p</text>
<text transform="translate(616.25,219.60) scale(1.131,1)" font-size="6.15" fill="#262626" stroke="#262626" stroke-width="0.04">&lt;</text>
<text transform="translate(622.39,219.60) scale(0.925,1)" font-size="6.15" fill="#262626" stroke="#262626" stroke-width="0.04">0</text>
<text transform="translate(625.73,219.60) scale(0.950,1)" font-size="6.15" fill="#262626" stroke="#262626" stroke-width="0.04">.</text>
<text transform="translate(627.53,219.60) scale(0.925,1)" font-size="6.15" fill="#262626" stroke="#262626" stroke-width="0.04">0</text>
<text transform="translate(630.97,219.60) scale(0.925,1)" font-size="6.15" fill="#262626" stroke="#262626" stroke-width="0.04">0</text>
<text transform="translate(634.44,219.60) scale(0.884,1)" font-size="6.15" fill="#262626" stroke="#262626" stroke-width="0.04">1</text>
<line x1="569.12" y1="45.1" x2="569.12" y2="263.0" stroke="#1f77b4" stroke-opacity="0.55" stroke-width="1" stroke-dasharray="2.7 1.3"/>
<rect x="568.5" y="48.3" width="112.5" height="18.2" rx="1.2" fill="#fff" fill-opacity="0.85" stroke="#dcdcdc" stroke-width="0.8"/>
<line x1="570.1" y1="52.5" x2="582.9" y2="52.5" stroke="#1f77b4" stroke-width="1.9"/>
<line x1="570.1" y1="60.5" x2="582.9" y2="60.5" stroke="#ff7f0e" stroke-width="1.9"/>
<text transform="translate(586.52,54.50) scale(0.936,1)" font-size="6.25" fill="#262626" stroke="#262626" stroke-width="0.08">D</text>
<text transform="translate(590.94,54.50) scale(0.924,1)" font-size="6.25" fill="#262626" stroke="#262626" stroke-width="0.08">i</text>
<text transform="translate(592.52,54.50) scale(0.867,1)" font-size="6.25" fill="#262626" stroke="#262626" stroke-width="0.08">s</text>
<text transform="translate(595.37,54.50) scale(0.977,1)" font-size="6.25" fill="#262626" stroke="#262626" stroke-width="0.08">e</text>
<text transform="translate(598.92,54.50) scale(0.813,1)" font-size="6.25" fill="#262626" stroke="#262626" stroke-width="0.08">a</text>
<text transform="translate(602.41,54.50) scale(0.867,1)" font-size="6.25" fill="#262626" stroke="#262626" stroke-width="0.08">s</text>
<text transform="translate(605.25,54.50) scale(0.977,1)" font-size="6.25" fill="#262626" stroke="#262626" stroke-width="0.08">e</text>
<text transform="translate(610.53,54.50) scale(0.839,1)" font-size="6.25" fill="#262626" stroke="#262626" stroke-width="0.08">C</text>
<text transform="translate(614.48,54.50) scale(0.961,1)" font-size="6.25" fill="#262626" stroke="#262626" stroke-width="0.08">o</text>
<text transform="translate(617.99,54.50) scale(0.975,1)" font-size="6.25" fill="#262626" stroke="#262626" stroke-width="0.08">n</text>
<text transform="translate(621.50,54.50) scale(1.209,1)" font-size="6.25" fill="#262626" stroke="#262626" stroke-width="0.08">t</text>
<text transform="translate(623.71,54.50) scale(1.159,1)" font-size="6.25" fill="#262626" stroke="#262626" stroke-width="0.08">r</text>
<text transform="translate(626.07,54.50) scale(0.961,1)" font-size="6.25" fill="#262626" stroke="#262626" stroke-width="0.08">o</text>
<text transform="translate(629.61,54.50) scale(0.924,1)" font-size="6.25" fill="#262626" stroke="#262626" stroke-width="0.08">l</text>
<text transform="translate(633.02,54.50) scale(0.764,1)" font-size="6.25" fill="#262626" stroke="#262626" stroke-width="0.08">(</text>
<text transform="translate(635.11,54.50) scale(0.936,1)" font-size="6.25" fill="#262626" stroke="#262626" stroke-width="0.08">D</text>
<text transform="translate(639.44,54.50) scale(0.839,1)" font-size="6.25" fill="#262626" stroke="#262626" stroke-width="0.08">C</text>
<text transform="translate(643.45,54.50) scale(0.865,1)" font-size="6.25" fill="#262626" stroke="#262626" stroke-width="0.08">R</text>
<text transform="translate(647.69,54.50) scale(0.764,1)" font-size="6.25" fill="#262626" stroke="#262626" stroke-width="0.08">)</text>
<text transform="translate(649.17,54.50) scale(1.318,1)" font-size="6.25" fill="#262626" stroke="#262626" stroke-width="0.08">,</text>
<text transform="translate(653.17,54.50) scale(0.975,1)" font-size="6.25" fill="#262626" stroke="#262626" stroke-width="0.08">n</text>
<text transform="translate(656.89,54.50) scale(1.165,1)" font-size="6.25" fill="#262626" stroke="#262626" stroke-width="0.08">=</text>
<text transform="translate(661.57,54.50) scale(0.910,1)" font-size="6.25" fill="#262626" stroke="#262626" stroke-width="0.08">1</text>
<text transform="translate(665.19,54.50) scale(0.900,1)" font-size="6.25" fill="#262626" stroke="#262626" stroke-width="0.08">5</text>
<text transform="translate(668.72,54.50) scale(0.953,1)" font-size="6.25" fill="#262626" stroke="#262626" stroke-width="0.08">0</text>
<text transform="translate(586.59,62.50) scale(0.792,1)" font-size="6.25" fill="#262626" stroke="#262626" stroke-width="0.08">P</text>
<text transform="translate(589.86,62.50) scale(1.147,1)" font-size="6.25" fill="#262626" stroke="#262626" stroke-width="0.08">r</text>
<text transform="translate(592.19,62.50) scale(0.952,1)" font-size="6.25" fill="#262626" stroke="#262626" stroke-width="0.08">o</text>
<text transform="translate(595.60,62.50) scale(0.973,1)" font-size="6.25" fill="#262626" stroke="#262626" stroke-width="0.08">g</text>
<text transform="translate(599.14,62.50) scale(1.147,1)" font-size="6.25" fill="#262626" stroke="#262626" stroke-width="0.08">r</text>
<text transform="translate(601.46,62.50) scale(0.967,1)" font-size="6.25" fill="#262626" stroke="#262626" stroke-width="0.08">e</text>
<text transform="translate(605.00,62.50) scale(0.858,1)" font-size="6.25" fill="#262626" stroke="#262626" stroke-width="0.08">s</text>
<text transform="translate(607.92,62.50) scale(0.858,1)" font-size="6.25" fill="#262626" stroke="#262626" stroke-width="0.08">s</text>
<text transform="translate(610.82,62.50) scale(0.915,1)" font-size="6.25" fill="#262626" stroke="#262626" stroke-width="0.08">i</text>
<text transform="translate(612.38,62.50) scale(0.966,1)" font-size="6.25" fill="#262626" stroke="#262626" stroke-width="0.08">v</text>
<text transform="translate(615.60,62.50) scale(0.967,1)" font-size="6.25" fill="#262626" stroke="#262626" stroke-width="0.08">e</text>
<text transform="translate(620.84,62.50) scale(0.926,1)" font-size="6.25" fill="#262626" stroke="#262626" stroke-width="0.08">D</text>
<text transform="translate(625.22,62.50) scale(0.915,1)" font-size="6.25" fill="#262626" stroke="#262626" stroke-width="0.08">i</text>
<text transform="translate(626.79,62.50) scale(0.858,1)" font-size="6.25" fill="#262626" stroke="#262626" stroke-width="0.08">s</text>
<text transform="translate(629.60,62.50) scale(0.967,1)" font-size="6.25" fill="#262626" stroke="#262626" stroke-width="0.08">e</text>
<text transform="translate(633.11,62.50) scale(0.805,1)" font-size="6.25" fill="#262626" stroke="#262626" stroke-width="0.08">a</text>
<text transform="translate(636.58,62.50) scale(0.858,1)" font-size="6.25" fill="#262626" stroke="#262626" stroke-width="0.08">s</text>
<text transform="translate(639.39,62.50) scale(0.967,1)" font-size="6.25" fill="#262626" stroke="#262626" stroke-width="0.08">e</text>
<text transform="translate(644.75,62.50) scale(0.757,1)" font-size="6.25" fill="#262626" stroke="#262626" stroke-width="0.08">(</text>
<text transform="translate(646.89,62.50) scale(0.792,1)" font-size="6.25" fill="#262626" stroke="#262626" stroke-width="0.08">P</text>
<text transform="translate(650.19,62.50) scale(0.926,1)" font-size="6.25" fill="#262626" stroke="#262626" stroke-width="0.08">D</text>
<text transform="translate(654.85,62.50) scale(0.757,1)" font-size="6.25" fill="#262626" stroke="#262626" stroke-width="0.08">)</text>
<text transform="translate(656.31,62.50) scale(1.305,1)" font-size="6.25" fill="#262626" stroke="#262626" stroke-width="0.08">,</text>
<text transform="translate(660.28,62.50) scale(0.965,1)" font-size="6.25" fill="#262626" stroke="#262626" stroke-width="0.08">n</text>
<text transform="translate(663.96,62.50) scale(1.153,1)" font-size="6.25" fill="#262626" stroke="#262626" stroke-width="0.08">=</text>
<text transform="translate(668.59,62.50) scale(0.901,1)" font-size="6.25" fill="#262626" stroke="#262626" stroke-width="0.08">1</text>
<text transform="translate(672.11,62.50) scale(0.944,1)" font-size="6.25" fill="#262626" stroke="#262626" stroke-width="0.08">4</text>
<text transform="translate(675.74,62.50) scale(0.891,1)" font-size="6.25" fill="#262626" stroke="#262626" stroke-width="0.08">5</text>
<text transform="translate(0.724,12.500) scale(0.18012,0.17572)" font-size="100.0" fill="#111" stroke="#111" stroke-width="0" style="font-family:'Liberation Serif', serif">A</text>
<text transform="translate(13.150,12.188) scale(0.22003,0.22003)" font-size="100.0" fill="#111" stroke="#111" stroke-width="0" style="font-family:'Liberation Serif', serif">.</text>
<text transform="translate(323.650,12.546) scale(0.15610,0.18549)" font-size="100.0" fill="#111" stroke="#111" stroke-width="2" style="font-family:'Liberation Serif', serif">B</text>
<text transform="translate(333.461,12.288) scale(0.20311,0.22003)" font-size="100.0" fill="#111" stroke="#111" stroke-width="0" style="font-family:'Liberation Serif', serif">.</text>
</g>
</svg>
</body></html>
